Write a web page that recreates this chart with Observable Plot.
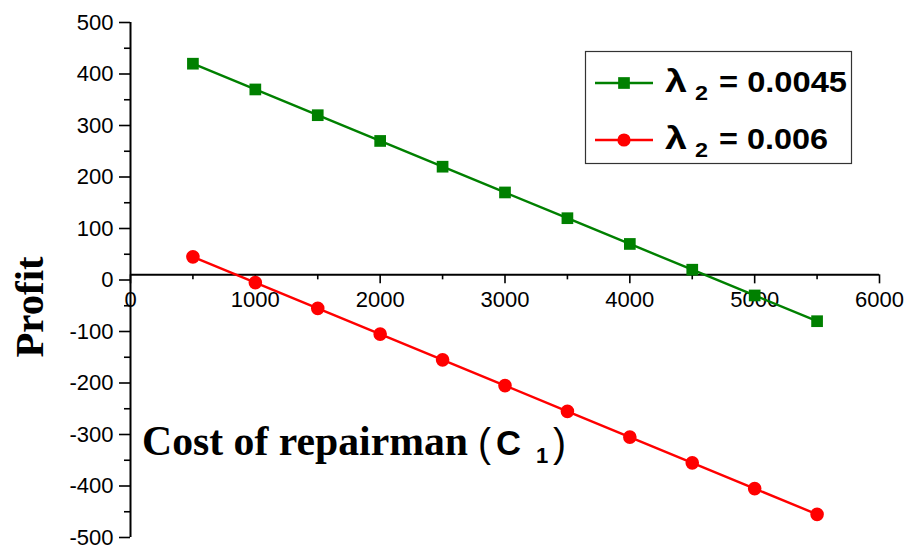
<!DOCTYPE html>
<html>
<head>
<meta charset="utf-8">
<script src="https://cdn.jsdelivr.net/npm/d3@7"></script>
<script src="https://cdn.jsdelivr.net/npm/@observablehq/plot@0.6"></script>
<style>
  body { margin: 0; background: #fff; }
  svg { display: block; }
</style>
</head>
<body>
<div id="chart"></div>
<script>
// Cost of repairman C1
const repairCost = [500, 1000, 1500, 2000, 2500, 3000, 3500, 4000, 4500, 5000, 5500];
// Profit for λ2 = 0.0045
const profitLambda0045 = [420, 370, 320, 270, 220, 170, 120, 70, 20, -30, -80];
// Profit for λ2 = 0.006
const profitLambda006 = [45, -5, -55, -105, -155, -205, -255, -305, -355, -405, -455];

const seriesKeys = ["0.0045", "0.006"];
const seriesColors = ["#008000", "#ff0000"];
const seriesSymbols = ["square", "circle"];

const xTicks = [0, 1000, 2000, 3000, 4000, 5000, 6000];
const xMinorTicks = [500, 1500, 2500, 3500, 4500, 5500];
const yTicks = [-500, -400, -300, -200, -100, 0, 100, 200, 300, 400, 500];
const yMinorTicks = [-450, -350, -250, -150, -50, 50, 150, 250, 350, 450];

const rows = repairCost.flatMap((c, i) => [
  {cost: c, profit: profitLambda0045[i], series: seriesKeys[0]},
  {cost: c, profit: profitLambda006[i], series: seriesKeys[1]}
]);

const W = 907, H = 547;
const xAxisAt = 10;            // the horizontal axis line sits a touch above zero
const unitsPerPx = 1000 / (H - 22 - 10);
const sans = "'Liberation Sans', Arial, Helvetica, sans-serif";
const serif = "'Liberation Serif', 'Times New Roman', serif";
const tickFont = 22;

const chart = Plot.plot({
  width: W,
  height: H,
  marginLeft: 130,
  marginRight: 28,
  marginTop: 22,
  marginBottom: 10,
  style: {fontFamily: sans, fontSize: tickFont + "px", color: "#000", background: "#fff", overflow: "visible"},
  x: {domain: [0, 6000], axis: null},
  y: {domain: [-500, 500]},
  color: {domain: seriesKeys, range: seriesColors},
  marks: [
    // axis lines
    Plot.ruleX([0], {stroke: "#000", strokeWidth: 2}),
    Plot.ruleY([xAxisAt], {stroke: "#000", strokeWidth: 2}),
    // y axis: major ticks with labels, minor ticks without
    Plot.axisY({ticks: yTicks, tickSize: 11, tickPadding: 6, tickFormat: d => String(d), label: null, fontSize: tickFont, strokeWidth: 1.6, strokeOpacity: 1}),
    Plot.axisY({ticks: yMinorTicks, tickSize: 6, tickFormat: () => "", label: null, strokeWidth: 1.6, strokeOpacity: 1}),
    // x axis ticks hanging below the axis line
    Plot.ruleX(xTicks, {x: d => d, y1: () => xAxisAt, y2: () => xAxisAt - 9 * unitsPerPx, stroke: "#000", strokeWidth: 1.6}),
    Plot.ruleX(xMinorTicks, {x: d => d, y1: () => xAxisAt, y2: () => xAxisAt - 5 * unitsPerPx, stroke: "#000", strokeWidth: 1.6}),
    Plot.text(xTicks, {x: d => d, y: () => xAxisAt, dy: 25, text: d => String(d), fontSize: tickFont, lineAnchor: "middle", fill: "#000"}),
    // series
    Plot.line(rows, {x: "cost", y: "profit", z: "series", stroke: "series", strokeWidth: 2.4}),
    Plot.dot(rows.filter(d => d.series === seriesKeys[0]), {x: "cost", y: "profit", symbol: () => seriesSymbols[0], r: 6.6, fill: seriesColors[0], stroke: "none"}),
    Plot.dot(rows.filter(d => d.series === seriesKeys[1]), {x: "cost", y: "profit", symbol: () => seriesSymbols[1], r: 6.8, fill: seriesColors[1], stroke: "none"})
  ]
});

const svg = d3.select(chart);

// helper for a single left-anchored text run, optionally fitted to a width
function label(parent, {x, y, text, family, size, weight = "bold", width}) {
  const t = parent.append("text")
    .attr("x", x).attr("y", y)
    .attr("text-anchor", "start")
    .attr("font-family", family)
    .attr("font-size", size)
    .attr("font-weight", weight)
    .attr("fill", "#000")
    .text(text);
  if (width) t.attr("textLength", width).attr("lengthAdjust", "spacingAndGlyphs");
  return t;
}

// y axis title
svg.append("text")
  .attr("transform", "translate(43,307) rotate(-90)")
  .attr("text-anchor", "middle")
  .attr("font-family", serif)
  .attr("font-weight", "bold")
  .attr("font-size", 40)
  .attr("fill", "#000")
  .attr("textLength", 101)
  .attr("lengthAdjust", "spacingAndGlyphs")
  .text("Profit");

// x axis title, placed inside the lower plot area
label(svg, {x: 142, y: 455, text: "Cost of repairman", family: serif, size: 42, width: 326});
label(svg, {x: 478, y: 457, text: "(", family: sans, size: 40, weight: "normal", width: 13});
label(svg, {x: 496, y: 455, text: "C", family: sans, size: 35, width: 25});
label(svg, {x: 536, y: 463, text: "1", family: sans, size: 22});
label(svg, {x: 553, y: 457, text: ")", family: sans, size: 40, weight: "normal", width: 13});

// legend
const lg = svg.append("g");
lg.append("rect")
  .attr("x", 585.5).attr("y", 51.5).attr("width", 266).attr("height", 112)
  .attr("fill", "#fff").attr("stroke", "#333").attr("stroke-width", 1.2);

const legendRows = [
  {key: seriesKeys[0], color: seriesColors[0], symbol: d3.symbolSquare, y: 83, width: 128},
  {key: seriesKeys[1], color: seriesColors[1], symbol: d3.symbolCircle, y: 140, width: 109}
];
legendRows.forEach(row => {
  lg.append("line")
    .attr("x1", 595).attr("x2", 653).attr("y1", row.y).attr("y2", row.y)
    .attr("stroke", row.color).attr("stroke-width", 2.4);
  lg.append("path")
    .attr("d", d3.symbol(row.symbol, Math.PI * 6.6 * 6.6)())
    .attr("transform", `translate(624,${row.y})`)
    .attr("fill", row.color);
  label(lg, {x: 665, y: row.y + 9, text: "λ", family: sans, size: 31, width: 22});
  label(lg, {x: 695, y: row.y + 17, text: "2", family: sans, size: 21, width: 13});
  label(lg, {x: 719, y: row.y + 9, text: "= " + row.key, family: sans, size: 29, width: row.width});
});

document.getElementById("chart").append(chart);
</script>
</body>
</html>
